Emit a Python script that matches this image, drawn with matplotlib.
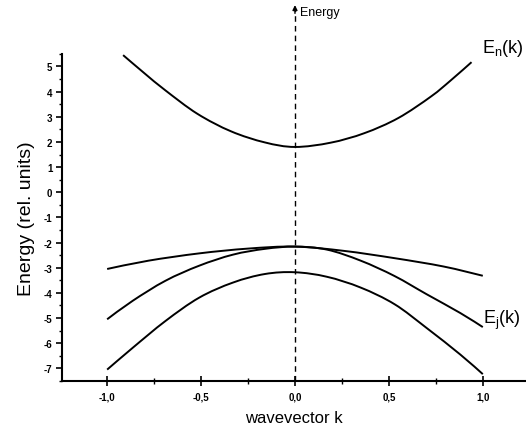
import numpy as np
import matplotlib.pyplot as plt
from matplotlib.path import Path
from matplotlib.patches import PathPatch
from matplotlib.ticker import MultipleLocator, FuncFormatter

plt.rcParams['font.family'] = ['Liberation Sans', 'DejaVu Sans']
plt.rcParams['mathtext.fontset'] = 'custom'
plt.rcParams['mathtext.rm'] = 'Liberation Sans'
plt.rcParams['mathtext.it'] = 'Liberation Sans'

# conduction band E_n(k)
k_n = [-0.915, -0.80, -0.69, -0.52, -0.34, -0.16, 0.0, 0.19, 0.37, 0.55, 0.725, 0.83, 0.94]
e_n = [5.45, 4.72, 4.05, 3.12, 2.42, 1.98, 1.80, 1.97, 2.35, 2.95, 3.81, 4.45, 5.17]

# valence bands E_j(k)
k_light = [-1.0, -0.78, -0.51, -0.25, 0.0, 0.26, 0.53, 0.79, 1.0]
e_light = [-3.05, -2.72, -2.43, -2.24, -2.16, -2.33, -2.62, -2.95, -3.32]

k_heavy = [-1.0, -0.865, -0.69, -0.51, -0.33, -0.16, 0.0, 0.17, 0.35, 0.53, 0.70, 0.88, 1.0]
e_heavy = [-5.05, -4.32, -3.52, -2.92, -2.48, -2.25, -2.16, -2.28, -2.72, -3.33, -4.05, -4.80, -5.36]

k_split = [-1.0, -0.865, -0.69, -0.51, -0.33, -0.16, 0.0, 0.17, 0.35, 0.53, 0.70, 0.88, 1.0]
e_split = [-7.05, -6.19, -5.12, -4.19, -3.59, -3.25, -3.18, -3.36, -3.79, -4.45, -5.39, -6.45, -7.23]


def smooth_path(xs, ys):
    # Catmull-Rom through the points, written as cubic Bezier segments
    p = np.column_stack([xs, ys])
    pts = np.vstack([p[0], p, p[-1]])
    verts = [p[0]]
    codes = [Path.MOVETO]
    for i in range(1, len(pts) - 2):
        p0, p1, p2, p3 = pts[i - 1], pts[i], pts[i + 1], pts[i + 2]
        verts += [p1 + (p2 - p0) / 6, p2 - (p3 - p1) / 6, p2]
        codes += [Path.CURVE4] * 3
    return Path(verts, codes)


fig = plt.figure(figsize=(5.26, 4.39), dpi=100)
ax = fig.add_axes([0.118, 0.13, 0.882, 0.745])

for k, e in [(k_n, e_n), (k_light, e_light), (k_heavy, e_heavy), (k_split, e_split)]:
    ax.add_patch(PathPatch(smooth_path(k, e), facecolor='none', edgecolor='black', lw=1.4))

# energy axis through k = 0
ax.plot([0, 0], [-7.5, 7.3], color='black', lw=1.0, ls=(0, (4, 3)), clip_on=False)
ax.annotate('', xy=(0, 7.55), xytext=(0, 7.0), annotation_clip=False,
            arrowprops=dict(arrowstyle='-|>', color='black', lw=1.0, mutation_scale=7))
ax.text(0.025, 7.15, 'Energy', fontsize=9, va='center', ha='left', clip_on=False)

ax.text(0.995, 5.75, r'E$_\mathrm{n}$(k)', fontsize=13, ha='left', va='center', clip_on=False)
ax.text(1.0, -5.05, r'E$_\mathrm{j}$(k)', fontsize=13, ha='left', va='center', clip_on=False)

ax.set_xlim(-1.24, 1.23)
ax.set_ylim(-7.5, 5.5)
ax.xaxis.set_major_locator(MultipleLocator(0.5))
ax.xaxis.set_minor_locator(MultipleLocator(0.25))
ax.yaxis.set_major_locator(MultipleLocator(1))
ax.yaxis.set_minor_locator(MultipleLocator(0.5))
ax.xaxis.set_major_formatter(FuncFormatter(lambda v, p: ('%.1f' % v).replace('.', ',')))
ax.yaxis.set_major_formatter(FuncFormatter(lambda v, p: '%d' % v))

ax.tick_params(axis='x', direction='inout', length=7, width=1.2, labelsize=7, pad=4)
ax.tick_params(axis='x', which='minor', direction='inout', length=4, width=1.0)
ax.tick_params(axis='y', direction='out', length=4, width=1.2, labelsize=7, pad=3)
ax.tick_params(axis='y', which='minor', direction='out', length=2, width=1.0)
for lab in ax.get_xticklabels() + ax.get_yticklabels():
    lab.set_fontweight('bold')

for s in ['top', 'right']:
    ax.spines[s].set_visible(False)
ax.spines['left'].set_linewidth(1.5)
ax.spines['bottom'].set_linewidth(1.5)

ax.set_xlabel('wavevector k', fontsize=12, labelpad=6)
ax.set_ylabel('Energy (rel. units)', fontsize=14, labelpad=6)

plt.savefig('out.png', dpi=100)
